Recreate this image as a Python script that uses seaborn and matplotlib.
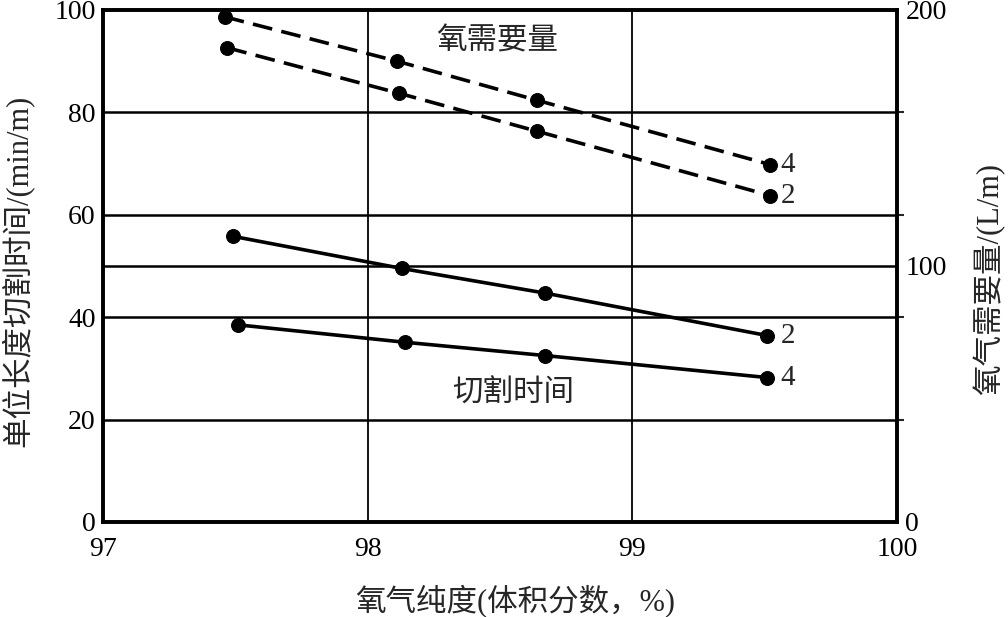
import matplotlib
matplotlib.use('Agg')
import matplotlib.pyplot as plt
import seaborn as sns
import pandas as pd

# oxygen purity (%) and readings per curve
x_o2_4 = [97.46, 98.11, 98.64, 99.52]
o2_need_4 = [197.3, 180.0, 164.7, 139.6]
x_o2_2 = [97.47, 98.12, 98.64, 99.52]
o2_need_2 = [185.2, 167.4, 152.6, 127.5]
x_cut_2 = [97.49, 98.13, 98.67, 99.51]
cut_time_2 = [55.8, 49.5, 44.7, 36.4]
x_cut_4 = [97.51, 98.14, 98.67, 99.51]
cut_time_4 = [38.5, 35.1, 32.5, 28.2]

x_ticks = [97, 98, 99, 100]
left_ticks = [0, 20, 40, 60, 80, 100]
right_ticks = [0, 100, 200]

SERIF = ['Liberation Serif', 'Noto Sans CJK SC']


def main():
    sns.set_style('white')
    plt.rcParams['font.family'] = SERIF
    plt.rcParams['axes.unicode_minus'] = False

    fig = plt.figure(figsize=(10.08, 6.17), dpi=100)
    ax = fig.add_axes([0.102, 0.154, 0.788, 0.830])
    ax2 = ax.twinx()

    line_kw = dict(color='black', linewidth=2.6, marker='o', markersize=10,
                   markeredgecolor='black', legend=False)
    dash = (0, (5.5, 2.6))

    df = pd.DataFrame({'x': x_cut_2, 'y': cut_time_2})
    sns.lineplot(data=df, x='x', y='y', ax=ax, **line_kw)
    df = pd.DataFrame({'x': x_cut_4, 'y': cut_time_4})
    sns.lineplot(data=df, x='x', y='y', ax=ax, **line_kw)

    df = pd.DataFrame({'x': x_o2_4, 'y': o2_need_4})
    sns.lineplot(data=df, x='x', y='y', ax=ax2, linestyle=dash, **line_kw)
    df = pd.DataFrame({'x': x_o2_2, 'y': o2_need_2})
    sns.lineplot(data=df, x='x', y='y', ax=ax2, linestyle=dash, **line_kw)

    ax.set_xlim(97, 100)
    ax.set_ylim(0, 100)
    ax2.set_ylim(0, 200)
    ax.set_xticks(x_ticks)
    ax.set_yticks(left_ticks)
    ax2.set_yticks(right_ticks)
    ax2.set_yticks([40, 80, 120, 160], minor=True)

    # grid
    for v in [20, 40, 50, 60, 80]:
        ax.axhline(v, color='black', linewidth=1.8, zorder=0)
    for v in [98, 99]:
        ax.axvline(v, color='black', linewidth=1.3, zorder=0)

    for a in (ax, ax2):
        for s in a.spines.values():
            s.set_color('black')
            s.set_linewidth(2.6)
    ax.tick_params(axis='x', length=0, labelsize=20, pad=11, colors='black')
    ax.tick_params(axis='y', length=0, labelsize=20, pad=5, colors='black')
    ax2.tick_params(axis='y', which='major', length=0, labelsize=20, pad=6, colors='black')
    ax2.tick_params(axis='y', which='minor', length=5, width=1.5, direction='out')

    ax.set_xlabel('氧气纯度(体积分数，%)', fontsize=22, va='center')
    ax.xaxis.set_label_coords(0.519, -0.154)
    ax.set_ylabel('单位长度切割时间/(min/m)', fontsize=22, va='center')
    ax.yaxis.set_label_coords(-0.108, 0.49)
    ax2.set_ylabel('氧气需要量/(L/m)', fontsize=22, va='center')
    ax2.yaxis.set_label_coords(1.116, 0.475)

    # curve annotations
    ax.text(98.49, 93.8, '氧需要量', fontsize=22, ha='center', va='center')
    ax.text(98.55, 25, '切割时间', fontsize=22, ha='center', va='center')
    ax2.text(99.56, o2_need_4[-1], '4', fontsize=21, va='center')
    ax2.text(99.56, o2_need_2[-1], '2', fontsize=21, va='center')
    ax.text(99.56, cut_time_2[-1], '2', fontsize=21, va='center')
    ax.text(99.56, cut_time_4[-1], '4', fontsize=21, va='center')

    ax.set_zorder(ax2.get_zorder() + 1)
    ax.patch.set_visible(False)

    fig.savefig('out.png', dpi=100)


if __name__ == "__main__":
    main()
